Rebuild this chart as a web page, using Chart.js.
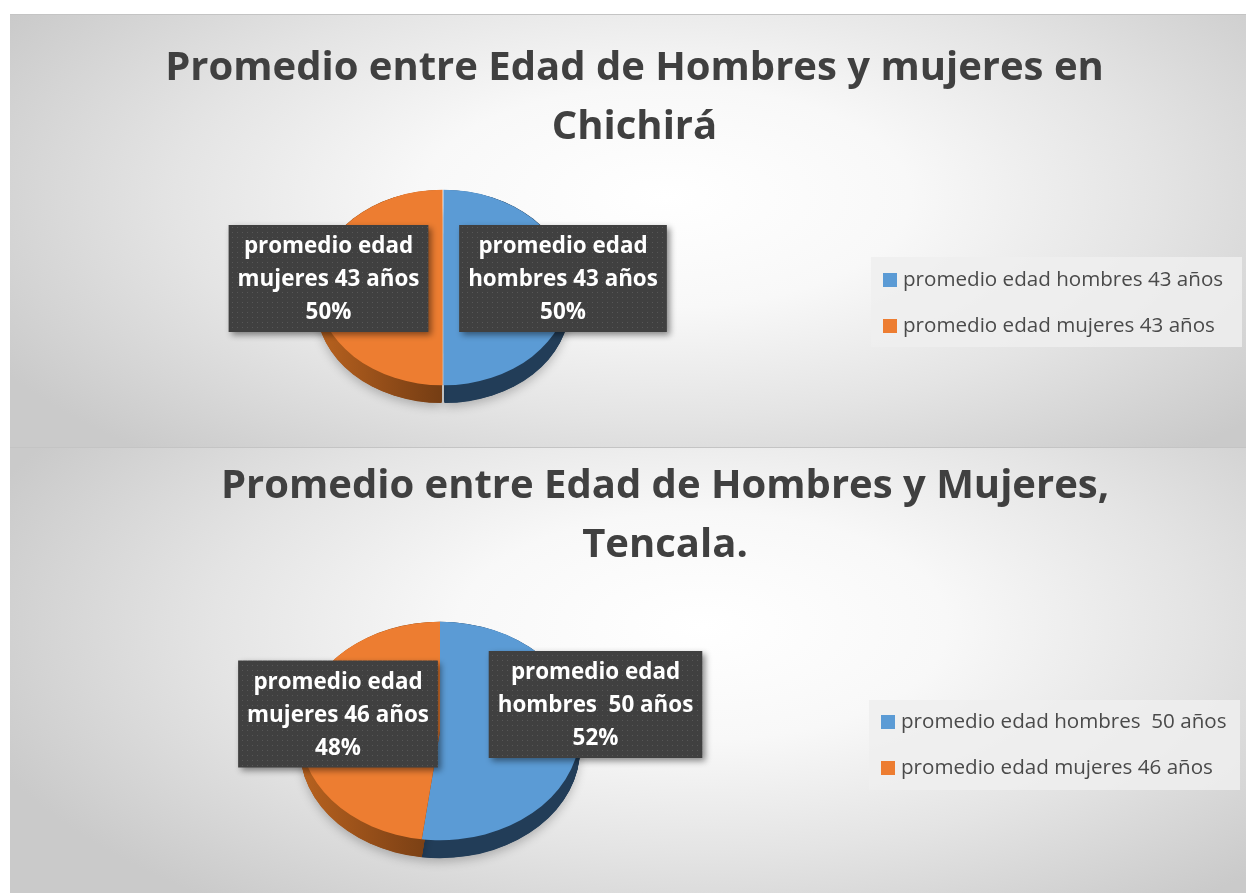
<!DOCTYPE html>
<html>
<head>
<meta charset="utf-8">
<script src="https://cdn.jsdelivr.net/npm/chart.js@4"></script>
<style>
  html, body { margin: 0; padding: 0; background: #fff; }
  body { width: 1246px; height: 893px; position: relative; overflow: hidden; }
  .panel {
    position: absolute; left: 10px; width: 1236px;
    border-top: 1px solid #c4c4c4;
    box-sizing: border-box;
  }
  #p1 { top: 14px; height: 434px;
    background: radial-gradient(ellipse 62% 80% at 53% 42%, #ffffff 0%, #f8f8f8 32%, #e4e4e4 64%, #cacaca 100%); }
  #p2 { top: 447px; height: 446px;
    background: radial-gradient(ellipse 62% 80% at 56% 40%, #ffffff 0%, #f8f8f8 32%, #e4e4e4 64%, #cacaca 100%); }
  canvas { position: absolute; left: 0; }
</style>
</head>
<body>
<div class="panel" id="p1"><canvas id="c1" width="1236" height="432"></canvas></div>
<div class="panel" id="p2"><canvas id="c2" width="1236" height="445"></canvas></div>
<script>
(function() {
  'use strict';

  // datos - Chichirá
  var titulo1 = ['Promedio entre Edad de Hombres y mujeres en', 'Chichirá'];
  var categorias1 = ['promedio edad hombres 43 años', 'promedio edad mujeres 43 años'];
  var edades1 = [43, 43];

  // datos - Tencala
  var titulo2 = ['Promedio entre Edad de Hombres y Mujeres,', 'Tencala.'];
  var categorias2 = ['promedio edad hombres  50 años', 'promedio edad mujeres 46 años'];
  var edades2 = [50, 46];

  var colores = ['#5b9bd5', '#ed7d31'];
  var lados = [['#223d58', '#223d58'], ['#b8621f', '#8a4817', '#5e3210', '#5e3210']];

  var fuente = '"Open Sans", "Noto Sans", sans-serif';

  // fondo punteado de las etiquetas
  var patronCanvas = document.createElement('canvas');
  patronCanvas.width = 5; patronCanvas.height = 5;
  var pc = patronCanvas.getContext('2d');
  pc.fillStyle = '#404040'; pc.fillRect(0, 0, 5, 5);
  pc.fillStyle = '#575757'; pc.fillRect(2, 2, 1, 1);

  // torta inclinada con profundidad
  var pie3d = {
    id: 'pie3d',
    beforeDatasetsDraw: function(chart, args, opts) {
      var meta = chart.getDatasetMeta(0);
      var ctx = chart.ctx;
      var cx = meta.data[0].x, cy = meta.data[0].y;
      ctx.save();
      ctx.translate(cx, cy);
      ctx.scale(1, opts.tilt);
      ctx.translate(-cx, -cy);
      var depth = opts.depth / opts.tilt;
      meta.data.forEach(function(arc, i) {
        var p = arc.getProps(['x', 'y', 'startAngle', 'endAngle', 'outerRadius']);
        var mid = (p.startAngle + p.endAngle) / 2;
        var off = arc.options.offset || 0;
        var ox = Math.cos(mid) * off, oy = Math.sin(mid) * off;
        var g = ctx.createLinearGradient(p.x - p.outerRadius, 0, p.x + p.outerRadius, 0);
        lados[i].forEach(function(c, j, a) { g.addColorStop(j / (a.length - 1), c); });
        for (var d = depth; d > 0; d -= 0.5) {
          ctx.save();
          if (d === depth) {
            ctx.shadowColor = 'rgba(0,0,0,0.22)';
            ctx.shadowBlur = 10;
            ctx.shadowOffsetY = 4;
          }
          ctx.fillStyle = g;
          ctx.beginPath();
          ctx.moveTo(p.x + ox, p.y + oy + d);
          ctx.arc(p.x + ox, p.y + oy + d, p.outerRadius, p.startAngle, p.endAngle);
          ctx.closePath();
          ctx.fill();
          ctx.restore();
        }
      });
    },
    afterDatasetsDraw: function(chart) {
      chart.ctx.restore();
    }
  };

  // titulo, etiquetas y leyenda
  var adornos = {
    id: 'adornos',
    afterDraw: function(chart, args, opts) {
      var ctx = chart.ctx;
      var meta = chart.getDatasetMeta(0);
      var valores = chart.data.datasets[0].data;
      var total = valores.reduce(function(a, b) { return a + b; }, 0);
      ctx.save();

      // titulo
      ctx.fillStyle = '#404040';
      ctx.font = 'bold 40px ' + fuente;
      ctx.textAlign = 'center';
      ctx.textBaseline = 'alphabetic';
      opts.titulo.forEach(function(t, i) {
        ctx.fillText(t, opts.tituloX, opts.tituloY + i * 59);
      });

      // etiquetas de datos
      ctx.font = 'bold 22.4px ' + fuente;
      ctx.textBaseline = 'middle';
      meta.data.forEach(function(arc, i) {
        var lab = chart.data.labels[i];
        var corte = lab.indexOf(' ', lab.indexOf(' ') + 1);
        var lineas = [lab.slice(0, corte), lab.slice(corte + 1), Math.round(valores[i] / total * 100) + '%'];
        var w = 0;
        lineas.forEach(function(l) { w = Math.max(w, ctx.measureText(l).width); });
        w += 18;
        var h = 107;
        var bx = arc.x + opts.cajas[i][0] - w / 2;
        var by = arc.y + opts.cajas[i][1] - h / 2;
        ctx.save();
        ctx.shadowColor = 'rgba(0,0,0,0.45)';
        ctx.shadowBlur = 6;
        ctx.shadowOffsetX = 3;
        ctx.shadowOffsetY = 3;
        ctx.fillStyle = ctx.createPattern(patronCanvas, 'repeat');
        ctx.fillRect(bx, by, w, h);
        ctx.restore();
        ctx.fillStyle = '#ffffff';
        lineas.forEach(function(l, j) {
          ctx.fillText(l, bx + w / 2, by + 22 + j * 33);
        });
      });

      // leyenda
      var lg = opts.leyenda;
      ctx.fillStyle = 'rgba(238,238,238,0.85)';
      ctx.fillRect(lg.x, lg.y, lg.w, lg.h);
      ctx.font = '20.6px ' + fuente;
      ctx.textAlign = 'left';
      chart.data.labels.forEach(function(l, i) {
        var yy = lg.y + lg.primera + i * lg.paso;
        ctx.fillStyle = colores[i];
        ctx.fillRect(lg.x + 12, yy - 7, 14, 14);
        ctx.fillStyle = '#4a4a4a';
        ctx.fillText(l, lg.x + 32, yy);
      });
      ctx.restore();
    }
  };

  function torta(id, categorias, edades, titulo, cfg) {
    return new Chart(document.getElementById(id), {
      type: 'pie',
      data: {
        labels: categorias,
        datasets: [{
          data: edades,
          backgroundColor: colores,
          borderWidth: 0,
          offset: cfg.offset,
          radius: cfg.radio
        }]
      },
      options: {
        responsive: false,
        animation: false,
        events: [],
        layout: { padding: cfg.padding },
        plugins: {
          legend: { display: false },
          tooltip: { enabled: false },
          title: { display: false },
          pie3d: { tilt: 0.78, depth: 18 },
          adornos: {
            titulo: titulo,
            tituloX: cfg.tituloX,
            tituloY: cfg.tituloY,
            cajas: cfg.cajas,
            leyenda: cfg.leyenda
          }
        }
      },
      plugins: [pie3d, adornos]
    });
  }

  torta('c1', categorias1, edades1, titulo1, {
    offset: 1.5,
    radio: 125,
    padding: { left: 303, right: 673, top: 142.5, bottom: 29.5 },
    tituloX: 624.5, tituloY: 65,
    cajas: [[120, -9], [-114.5, -9]],
    leyenda: { x: 861, y: 242, w: 371, h: 90, primera: 23, paso: 46 }
  });

  torta('c2', categorias2, edades2, titulo2, {
    offset: 0,
    radio: 140,
    padding: { left: 280, right: 656, top: 133, bottom: 12 },
    tituloX: 655, tituloY: 50,
    cajas: [[155.5, -26.5], [-102, -17]],
    leyenda: { x: 859, y: 252, w: 371, h: 90, primera: 22, paso: 46 }
  });

})();
</script>
</body>
</html>
